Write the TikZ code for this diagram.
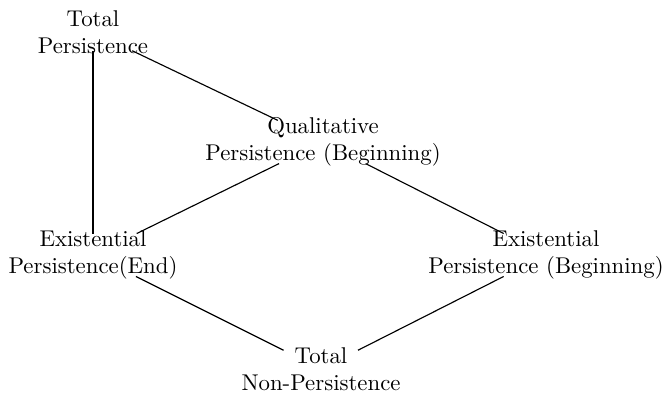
\documentclass[tikz,border=0pt]{standalone}
\begin{document}
\begin{tikzpicture}[x=0.4386pt,y=-0.4386pt,
  concept/.style={align=center,inner xsep=0pt,inner ysep=-1.5pt},
  link/.style={draw,line width=0.5pt}]
\useasboundingbox (0,0) rectangle (663,394);
\node[concept] (tp)  at (93,32)   {Total\\Persistence};
\node[concept] (qpb) at (323,142) {Qualitative\\Persistence (Beginning)};
\node[concept] (epe) at (93,255)  {Existential\\Persistence(End)};
\node[concept] (epb) at (546,255) {Existential\\Persistence (Beginning)};
\node[concept] (tnp) at (321,369) {Total\\Non-Persistence};
\draw[link] (tp) -- (epe);
\draw[link] (tp) -- (qpb);
\draw[link] (qpb) -- (epe);
\draw[link] (qpb) -- (epb);
\draw[link] (epe) -- (tnp);
\draw[link] (epb) -- (tnp);
\end{tikzpicture}
\end{document}
